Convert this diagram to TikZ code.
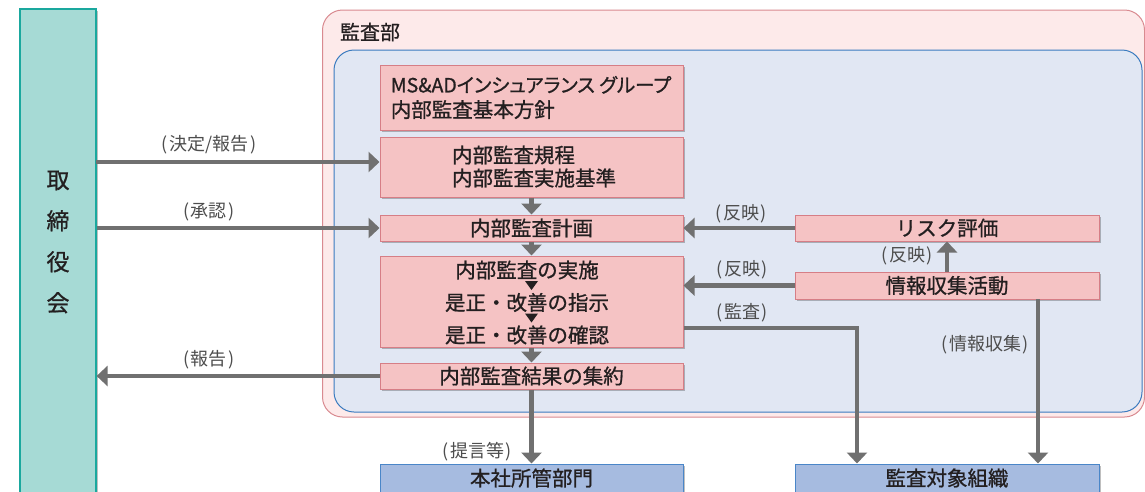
\documentclass[tikz,border=0pt]{standalone}
\usepackage{fontspec}
\setmainfont{Noto Sans CJK JP}
\newfontfamily\boxfont[FakeBold=0.9]{Noto Sans CJK JP}
\newfontfamily\paltfont[FakeBold=0.9,RawFeature=+palt]{Noto Sans CJK JP}
\newcommand{\lblfont}{\fontsize{18}{21}\selectfont}
\newcommand{\bxfont}{\boxfont\fontsize{20.5}{23}\selectfont}
\newcommand{\lp}{(\kern1.5pt}
\newcommand{\rp}{\kern1.5pt)}
\usetikzlibrary{arrows.meta,shadows}
\definecolor{greenfill}{HTML}{A6DAD5}
\definecolor{greenline}{HTML}{1AA89E}
\definecolor{outerfill}{HTML}{FDEAEA}
\definecolor{outerline}{HTML}{D98A90}
\definecolor{innerfill}{HTML}{E1E7F3}
\definecolor{innerline}{HTML}{3A7BBF}
\definecolor{pinkfill}{HTML}{F5C3C4}
\definecolor{pinkline}{HTML}{D67E86}
\definecolor{bluefill}{HTML}{A6BBE0}
\definecolor{blueline}{HTML}{4A86C8}
\definecolor{arrowgray}{HTML}{707070}
\definecolor{txt}{HTML}{231F20}
\definecolor{lbl}{HTML}{4D4D4D}
\tikzset{
  shade/.style={drop shadow={shadow xshift=2pt,shadow yshift=-2pt,opacity=0.25,fill=black}},
  pbox/.style={draw=pinkline,line width=1pt,fill=pinkfill,shade,minimum width=303pt,inner sep=0pt,
     text=txt,font=\bxfont},
  bbox/.style={draw=blueline,line width=1pt,fill=bluefill,shade,minimum width=304pt,inner sep=0pt,
     text=txt,font=\bxfont},
  arr/.style={draw=arrowgray,line width=4.5pt,-{Triangle[length=11pt,width=20pt]}},
  lab/.style={text=lbl,font=\lblfont,inner sep=0pt},
}
\begin{document}
\begin{tikzpicture}[x=1pt,y=-1pt]
\clip (0,0) rectangle (1145,491);
\fill[white] (0,0) rectangle (1145,491);
% board
\node[draw=greenline,line width=1.2pt,fill=greenfill,shade,minimum width=76pt,minimum height=486pt,inner sep=0pt] (bod) at (58,252) {};
\node[text=txt,align=center,font=\boxfont\fontsize{23}{41}\selectfont] (bodtxt) at (58,242) {取\\締\\役\\会};
% outer / inner frames
\node[draw=outerline,line width=1pt,fill=outerfill,rounded corners=20pt,minimum width=822pt,minimum height=407pt,inner sep=0pt] (outer) at (733.5,213.5) {};
\node[text=txt,font=\boxfont\fontsize{20}{24}\selectfont,inner sep=0pt] (title) at (370,32) {監査部};
\node[draw=innerline,line width=1pt,fill=innerfill,rounded corners=20pt,minimum width=808pt,minimum height=362pt,inner sep=0pt] (inner) at (738,231) {};
% left column
\node[pbox,minimum height=65pt] (policy) at (531.5,97.5) {};
\node[text=txt,align=left,inner sep=0pt,font=\boxfont\fontsize{20.5}{25}\selectfont] (policytxt) at (531,97.5) {{\paltfont\fontsize{19.5}{25}\selectfont MS\&ADインシュアランス グループ}\\内部監査基本方針};
\node[pbox,minimum height=60pt] (kitei) at (531.5,167) {};
\node[text=txt,align=left,font=\bxfont,inner sep=0pt] (kiteitxt) at (534,166.5) {内部監査規程\\内部監査実施基準};
\node[pbox,minimum height=26pt] (keikaku) at (531.5,228) {内部監査計画};
\node[pbox,minimum height=91pt] (jisshi) at (531.5,301.5) {};
\node[text=txt,align=center,font=\boxfont\fontsize{20.5}{32.5}\selectfont,inner sep=0pt] (jisshitxt) at (527,302.5) {内部監査の実施\\是正・改善の指示\\是正・改善の確認};
\fill[txt] (525,281) -- (538,281) -- (531.5,290) -- cycle;
\fill[txt] (525,313.5) -- (538,313.5) -- (531.5,322.5) -- cycle;
\node[pbox,minimum height=26pt] (shuyaku) at (531.5,376) {内部監査結果の集約};
\node[bbox,minimum width=303pt,minimum height=28pt] (honsha) at (531.5,478) {本社所管部門};
% right column
\node[pbox,minimum width=304pt,minimum height=26pt] (risk) at (947,228) {リスク評価};
\node[pbox,minimum width=304pt,minimum height=27pt] (joho) at (947,285.5) {情報収集活動};
\node[bbox,minimum height=28pt] (taisho) at (947,478) {監査対象組織};
% connectors
\coordinate (k0) at (96,162);
\coordinate (k1) at (857,328);
\coordinate (k2) at (1038,299);
\draw[arr] (k0) -- (k0 -| kitei.west);
\draw[arr] (bod.east |- keikaku.west) -- (keikaku.west);
\draw[arr] (shuyaku.west) -- (bod.east |- shuyaku.west);
\draw[arr] (kitei.south) -- (keikaku.north);
\draw[arr] (keikaku.south) -- (jisshi.north);
\draw[arr] (jisshi.south) -- (shuyaku.north);
\draw[arr] (shuyaku.south) -- (honsha.north);
\draw[arr] (risk.west) -- (keikaku.east);
\draw[arr] (joho.west) -- (joho.west -| jisshi.east);
\draw[arr] (joho.north) -- (risk.south);
\draw[arr] (jisshi.east |- k1) -- (k1) -- (k1 |- taisho.north);
\draw[arr] (k2) -- (k2 |- taisho.north);
% labels
\node[lab] (l1) at (209,145) {\lp 決定/報告\rp};
\node[lab] (l2) at (209,212) {\lp 承認\rp};
\node[lab] (l3) at (209,360) {\lp 報告\rp};
\node[lab] (l4) at (741,214) {\lp 反映\rp};
\node[lab] (l5) at (742,270) {\lp 反映\rp};
\node[lab] (l6) at (907,256) {\lp 反映\rp};
\node[lab] (l7) at (742,313) {\lp 監査\rp};
\node[lab] (l8) at (985,345) {\lp 情報収集\rp};
\node[lab] (l9) at (477,452) {\lp 提言等\rp};
\end{tikzpicture}
\end{document}
